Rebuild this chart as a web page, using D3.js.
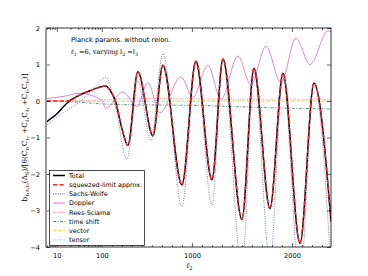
<!DOCTYPE html>
<html><head><meta charset="utf-8">
<script src="https://cdn.jsdelivr.net/npm/d3@7"></script>
<style>body{margin:0;background:#fff}svg{display:block}</style>
</head><body><svg id="c" width="368" height="276"></svg>
<script>
// ---- data (l2, value) ----
const total = [[6,-0.57],[8,-0.45],[10.5,-0.33],[14,-0.16],[19,0.0],[32,0.16],[54,0.28],[80,0.36],[140,0.41],[180,0.3],[235,0.0],[300,-0.75],[360,-1.22],[460,0.8],[610,-0.95],[710,0.98],[900,-2.3],[1040,1.09],[1200,-2.16],[1310,1.15],[1500,-3.25],[1620,0.9],[1780,-2.95],[1910,0.76],[2080,-3.9],[2220,0.49],[2390,-3.3]];
const squeezed = [[6,0.0],[10,0.0],[15,0.0],[20,0.02],[32,0.16],[54,0.28],[80,0.36],[140,0.41],[180,0.3],[235,0.0],[300,-0.75],[360,-1.22],[460,0.8],[610,-0.95],[710,0.98],[900,-2.3],[1040,1.09],[1200,-2.16],[1310,1.15],[1500,-3.25],[1620,0.9],[1780,-2.95],[1910,0.76],[2080,-3.9],[2220,0.49],[2390,-3.3]];
const sachsWolfe = [[6,-0.66],[10,-0.45],[17,-0.25],[30,-0.05],[42,0.1],[78,0.45],[140,0.65],[240,-0.2],[350,-1.6],[460,0.55],[590,-1.1],[710,1.3],[900,-2.9],[1040,1.05],[1200,-2.85],[1310,1.1],[1500,-4.6],[1620,0.8],[1780,-4.4],[1910,0.65],[2080,-4.9],[2220,0.45],[2390,-4.6]];
const doppler = [[6,0.07],[13,0.12],[32,0.21],[60,0.15],[100,0.0],[140,-0.2],[310,0.25],[450,-0.15],[560,0.5],[680,-0.33],[890,0.66],[1010,0.1],[1160,0.98],[1290,0.04],[1460,1.23],[1590,0.44],[1740,1.5],[1890,0.5],[2040,1.72],[2180,1.0],[2360,1.92],[2390,1.9]];
const reesSciama = [[6,0.0],[30,0.01],[100,0.03],[300,0.06],[700,0.07],[1000,0.06],[1500,0.05],[2000,0.05],[2390,0.04]];
const timeShift = [[6,0.0],[30,-0.03],[100,-0.08],[300,-0.1],[700,-0.11],[1000,-0.12],[1500,-0.16],[2000,-0.2],[2390,-0.22]];
const vectorS = [[6,0.0],[100,-0.01],[500,-0.01],[1000,0.0],[2390,0.0]];
const tensorS = [[6,0.0],[100,0.0],[1000,0.0],[2390,0.0]];

const xMajor = [10,100,1000,2000];
const xMajorLabels = ["10","100","1000","2000"];
const xMinor = [6,7,8,9,20,30,40,50,60,70,80,90,200,300,400,500,600,700,800,900,1100,1200,1300,1400,1500,1600,1700,1800,1900,2100,2200,2300];
const yTicks = [-4,-3,-2,-1,0,1,2];

// ---- layout ----
const L=46,R=331,T=28,B=247;
const svg=d3.select("#c");
const fx = l => l<=100 ? Math.log10(l) : 2+(l-100)/450;
const xs = d3.scaleLinear().domain([fx(5.75),fx(2390)]).range([L,R]);
const X = l => xs(fx(l));
const ys = d3.scaleLinear().domain([-4,2]).range([B,T]);

const defs=svg.append("defs");
defs.append("clipPath").attr("id","clp").append("rect").attr("x",L).attr("y",T).attr("width",R-L).attr("height",B-T);

const font="DejaVu Sans";
const fs=6.7;

// series
const line=d3.line().x(d=>X(d[0])).y(d=>ys(d[1])).curve(d3.curveMonotoneX);
const series=[
 {name:"Total",data:total,color:"#000",w:1.5,dash:null},
 {name:"squeezed-limit approx.",data:squeezed,color:"#ff2020",w:1.4,dash:"4,2.5"},
 {name:"Sachs-Wolfe",data:sachsWolfe,color:"#5a72c8",w:0.9,dash:"1,1.3"},
 {name:"Doppler",data:doppler,color:"#dd88cc",w:1.0,dash:null},
 {name:"Rees-Sciama",data:reesSciama,color:"#f08a8a",w:0.9,dash:"1,1.3"},
 {name:"time shift",data:timeShift,color:"#4c8c70",w:0.9,dash:"3,1.5,1,1.5"},
 {name:"vector",data:vectorS,color:"#f5d84a",w:1.0,dash:"3,2"},
 {name:"tensor",data:tensorS,color:"#88dde8",w:0.9,dash:"1,1.3"}
];
const g=svg.append("g").attr("clip-path","url(#clp)");
const drawOrder=[7,6,5,4,3,2,0,1];
drawOrder.forEach(i=>{
  const s=series[i];
  g.append("path").attr("d",line(s.data)).attr("fill","none").attr("stroke",s.color)
   .attr("stroke-width",s.w).attr("stroke-dasharray",s.dash);
});

// axes frame
const ax=svg.append("g");
const axB=d3.axisBottom(xs).tickValues(xMajor.map(fx)).tickFormat((d,i)=>xMajorLabels[i]).tickSizeInner(-4).tickSizeOuter(0).tickPadding(6);
const axBm=d3.axisBottom(xs).tickValues(xMinor.map(fx)).tickFormat("").tickSizeInner(-2).tickSizeOuter(0);
const axT=d3.axisTop(xs).tickValues(xMajor.map(fx)).tickFormat("").tickSizeInner(-4).tickSizeOuter(0);
const axTm=d3.axisTop(xs).tickValues(xMinor.map(fx)).tickFormat("").tickSizeInner(-2).tickSizeOuter(0);
const axL=d3.axisLeft(ys).tickValues(yTicks).tickFormat(d=>d<0?"\u2212"+(-d):""+d).tickSizeInner(-4).tickSizeOuter(0).tickPadding(6);
const axR=d3.axisRight(ys).tickValues(yTicks).tickFormat("").tickSizeInner(-4).tickSizeOuter(0);
[[axB,`translate(0,${B})`],[axBm,`translate(0,${B})`],[axT,`translate(0,${T})`],[axTm,`translate(0,${T})`],[axL,`translate(${L},0)`],[axR,`translate(${R},0)`]].forEach(([a,t])=>{
  const gg=ax.append("g").attr("transform",t).call(a);
  gg.select(".domain").remove();
  gg.selectAll("line").attr("stroke","#000").attr("stroke-width",0.6);
  gg.selectAll("text").attr("font-family",font).attr("font-size",fs).attr("fill","#000");
});
ax.append("rect").attr("x",L).attr("y",T).attr("width",R-L).attr("height",B-T).attr("fill","none").attr("stroke","#000").attr("stroke-width",0.8);
ax.append("line").attr("x1",L).attr("x2",L).attr("y1",T).attr("y2",B).attr("stroke","#999").attr("stroke-width",1.8);

// title text
svg.append("text").attr("x",71).attr("y",42).attr("font-family",font).attr("font-size",fs).text("Planck params. without reion.");
const t2=svg.append("text").attr("x",71).attr("y",54).attr("font-family","DejaVu Serif").attr("font-size",6.6);
t2.append("tspan").attr("font-style","italic").text("\u2113");
t2.append("tspan").attr("font-size",4.8).attr("dy",1.5).text("1");
t2.append("tspan").attr("dy",-1.5).text(" =6, varying l");
t2.append("tspan").attr("font-size",4.8).attr("dy",1.5).text("2");
t2.append("tspan").attr("dy",-1.5).text(" =l");
t2.append("tspan").attr("font-size",4.8).attr("dy",1.5).text("3");

// x label
const xl=svg.append("text").attr("x",186).attr("y",268).attr("font-family","DejaVu Serif").attr("font-size",7.5).attr("font-style","italic");
xl.append("tspan").text("\u2113");
xl.append("tspan").attr("font-size",5.2).attr("dy",1.8).attr("font-style","normal").text("2");

// y label
const yl=svg.append("text").attr("transform",`translate(27,${(T+B)/2}) rotate(-90)`).attr("text-anchor","middle").attr("font-family","DejaVu Serif").attr("font-size",7.2);
const parts=[["b",0],["\u2113\u2081\u2113\u2082\u2113\u2083",1],["(\u0394",0],["S",1],[")/[6(C",0],["\u2113\u2081",1],["C",0],["\u2113\u2082",1],[" +C",0],["\u2113\u2081",1],["C",0],["\u2113\u2083",1],[" +C",0],["\u2113\u2082",1],["C",0],["\u2113\u2083",1],[")]",0]];
let sub=false;
parts.forEach(([t,s])=>{
  const sp=yl.append("tspan").text(t);
  if(s){sp.attr("font-size",5.2); if(!sub){sp.attr("dy",1.7);} sub=true;}
  else{ if(sub){sp.attr("dy",-1.7);} sub=false;}
});

// legend
const lg=svg.append("g");
lg.append("rect").attr("x",49.5).attr("y",170.5).attr("width",95).attr("height",75).attr("fill","#fff").attr("stroke","#000").attr("stroke-width",0.7);
series.forEach((s,i)=>{
  const yy=175.5+i*9.2;
  lg.append("line").attr("x1",53).attr("x2",65).attr("y1",yy).attr("y2",yy).attr("stroke",s.color).attr("stroke-width",Math.max(s.w,1.2)).attr("stroke-dasharray",s.dash);
  lg.append("text").attr("x",69).attr("y",yy+2.3).attr("font-family",font).attr("font-size",6.4).text(s.name);
});
</script></body></html>
